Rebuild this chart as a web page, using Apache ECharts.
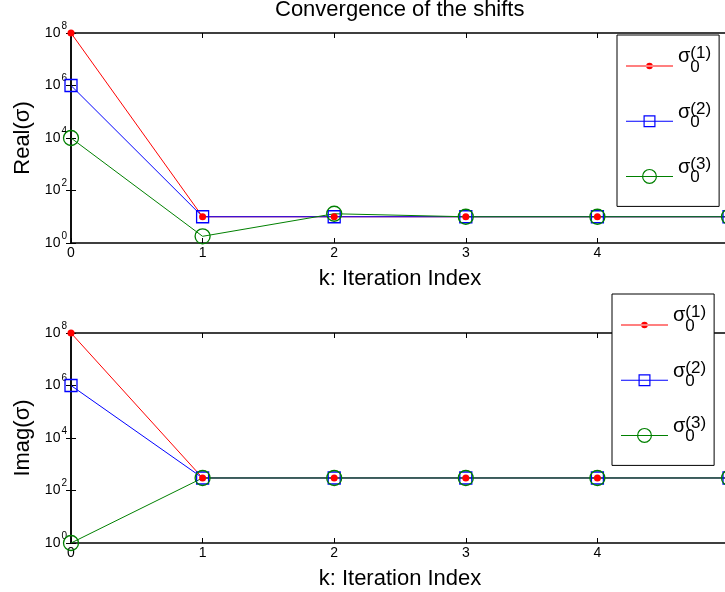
<!DOCTYPE html>
<html>
<head>
<meta charset="utf-8">
<script src="https://cdn.jsdelivr.net/npm/echarts@6/dist/echarts.min.js"></script>
<style>
html,body{margin:0;padding:0;background:#fff;}
#chart{width:725px;height:592px;}
</style>
</head>
<body>
<div id="chart"></div>
<script>
// ---- data ----
const iterations = [0, 1, 2, 3, 4, 5];
const realSigma1 = [1e8, 10, 10, 10, 10, 10];
const realSigma2 = [1e6, 10, 10, 10, 10, 10];
const realSigma3 = [1e4, 1.8, 13, 10, 10, 10];
const imagSigma1 = [1e8, 300, 300, 300, 300, 300];
const imagSigma2 = [1e6, 300, 300, 300, 300, 300];
const imagSigma3 = [1, 300, 300, 300, 300, 300];
const seriesNames = ['σ0(1)', 'σ0(2)', 'σ0(3)'];
const seriesSup = ['(1)', '(2)', '(3)'];
const titleText = 'Convergence of the shifts';
const xName = 'k: Iteration Index';
const yNames = ['Real(σ)', 'Imag(σ)'];

const FONT = 'Liberation Sans, Arial, Helvetica, sans-serif';
const colors = ['#ff0000', '#0000ff', '#008000'];

const chart = echarts.init(document.getElementById('chart'), null, {renderer: 'canvas'});

function pairs(arr) { return iterations.map((k, i) => [k, arr[i]]); }

const grids = [
  {left: 71, top: 33, height: 210, width: 658, containLabel: false, outerBoundsMode: 'none'},
  {left: 71, top: 333, height: 210, width: 658, containLabel: false, outerBoundsMode: 'none'}
];

function xAxes(gi) {
  const common = {
    type: 'value', gridIndex: gi, min: 0, max: 5, interval: 1,
    splitLine: {show: false},
    axisLine: {show: true, lineStyle: {color: '#000', width: 1.5}},
    axisTick: {show: true, inside: true, length: 5, lineStyle: {color: '#000', width: 1}}
  };
  return [
    Object.assign({}, common, {
      position: 'bottom',
      axisLabel: {show: true, color: '#000', fontFamily: FONT, fontSize: 14, margin: 3},
      name: xName, nameLocation: 'middle', nameGap: 25,
      nameTextStyle: {color: '#000', fontFamily: FONT, fontSize: 22}
    }),
    Object.assign({}, common, {position: 'top', axisLabel: {show: false}})
  ];
}

function yAxes(gi) {
  const common = {
    type: 'log', logBase: 10, gridIndex: gi, min: 1, max: 1e8, interval: 2,
    splitLine: {show: false}, minorTick: {show: false},
    axisLine: {show: true, lineStyle: {color: '#000', width: 1.5}},
    axisTick: {show: true, inside: true, length: 5, lineStyle: {color: '#000', width: 1}}
  };
  return [
    Object.assign({}, common, {
      position: 'left',
      axisLabel: {
        show: true, margin: 4, color: '#000', fontFamily: FONT,
        formatter: function (v) {
          const e = Math.round(Math.log10(v));
          return '{b|10}{e|' + e + '}';
        },
        rich: {
          b: {fontSize: 14, fontFamily: FONT, color: '#000', height: 14, verticalAlign: 'top', padding: [6, 0, 6, 0]},
          e: {fontSize: 10, fontFamily: FONT, color: '#000', height: 10, verticalAlign: 'top', padding: [1, 0, 0, 1]}
        }
      },
      name: yNames[gi], nameLocation: 'middle', nameGap: 36,
      nameTextStyle: {color: '#000', fontFamily: FONT, fontSize: 22}
    }),
    Object.assign({}, common, {position: 'right', axisLabel: {show: false}})
  ];
}

const iconPaths = [
  'path://M0,7.5H47V8.5H0Z M20.2,8A3.3,3.3,0,1,0,26.8,8A3.3,3.3,0,1,0,20.2,8Z',
  'path://M0,7.5H47V8.5H0Z M17.5,2H29.5V14H17.5Z M18.7,3.2V12.8H28.3V3.2Z',
  'path://M0,7.5H47V8.5H0Z M16,8A7.5,7.5,0,1,1,31,8A7.5,7.5,0,1,1,16,8Z M17.2,8A6.3,6.3,0,1,0,29.8,8A6.3,6.3,0,1,0,17.2,8Z'
];

function legend(left, top) {
  return {
    orient: 'vertical', left: left, top: top,
    itemWidth: 47, itemHeight: 16, itemGap: 25,
    padding: [10.3, 8, 20.5, 9],
    backgroundColor: '#fff', borderColor: '#000', borderWidth: 1,
    selectedMode: false,
    data: seriesNames.map((n, i) => ({
      name: n, icon: iconPaths[i],
      itemStyle: {color: colors[i], borderWidth: 0, borderColor: colors[i]}
    })),
    formatter: function (name) {
      const i = seriesNames.indexOf(name);
      return '{sig|σ}{sub|0}{sup|' + seriesSup[i] + '}';
    },
    textStyle: {
      color: '#000', fontFamily: FONT,
      rich: {
        sig: {fontSize: 20, fontFamily: FONT, color: '#000', height: 20, verticalAlign: 'top', padding: [3, 0, 0, 0]},
        sub: {fontSize: 17, fontFamily: FONT, color: '#000', height: 17, width: 0, align: 'left', verticalAlign: 'top', padding: [14.7, 0, 12.7, 0]},
        sup: {fontSize: 17, fontFamily: FONT, color: '#000', height: 17, verticalAlign: 'top', padding: [1.5, 0, 0, 0]}
      }
    }
  };
}

const symbols = ['circle', 'rect', 'circle'];
const symbolSizes = [7, 12, 15];

function makeSeries(gi, arrays) {
  return arrays.map((arr, i) => ({
    type: 'line', name: seriesNames[i],
    xAxisIndex: gi * 2, yAxisIndex: gi * 2,
    data: pairs(arr),
    symbol: symbols[i], symbolSize: symbolSizes[i], showSymbol: true,
    lineStyle: {color: colors[i], width: 1},
    itemStyle: i === 0
      ? {color: colors[i], borderWidth: 0}
      : {color: 'rgba(0,0,0,0)', borderColor: colors[i], borderWidth: 1.3},
    emphasis: {disabled: true},
    animation: false
  }));
}

chart.setOption({
  animation: false,
  backgroundColor: '#fff',
  textStyle: {fontFamily: FONT},
  title: {
    text: titleText, left: 275, top: -1, padding: 0,
    textStyle: {color: '#000', fontFamily: FONT, fontSize: 22, fontWeight: 'normal'}
  },
  grid: grids,
  xAxis: xAxes(0).concat(xAxes(1)),
  yAxis: yAxes(0).concat(yAxes(1)),
  legend: [legend(617, 35), legend(612, 294)],
  series: makeSeries(0, [realSigma1, realSigma2, realSigma3])
    .concat(makeSeries(1, [imagSigma1, imagSigma2, imagSigma3]))
});
</script>
</body>
</html>
